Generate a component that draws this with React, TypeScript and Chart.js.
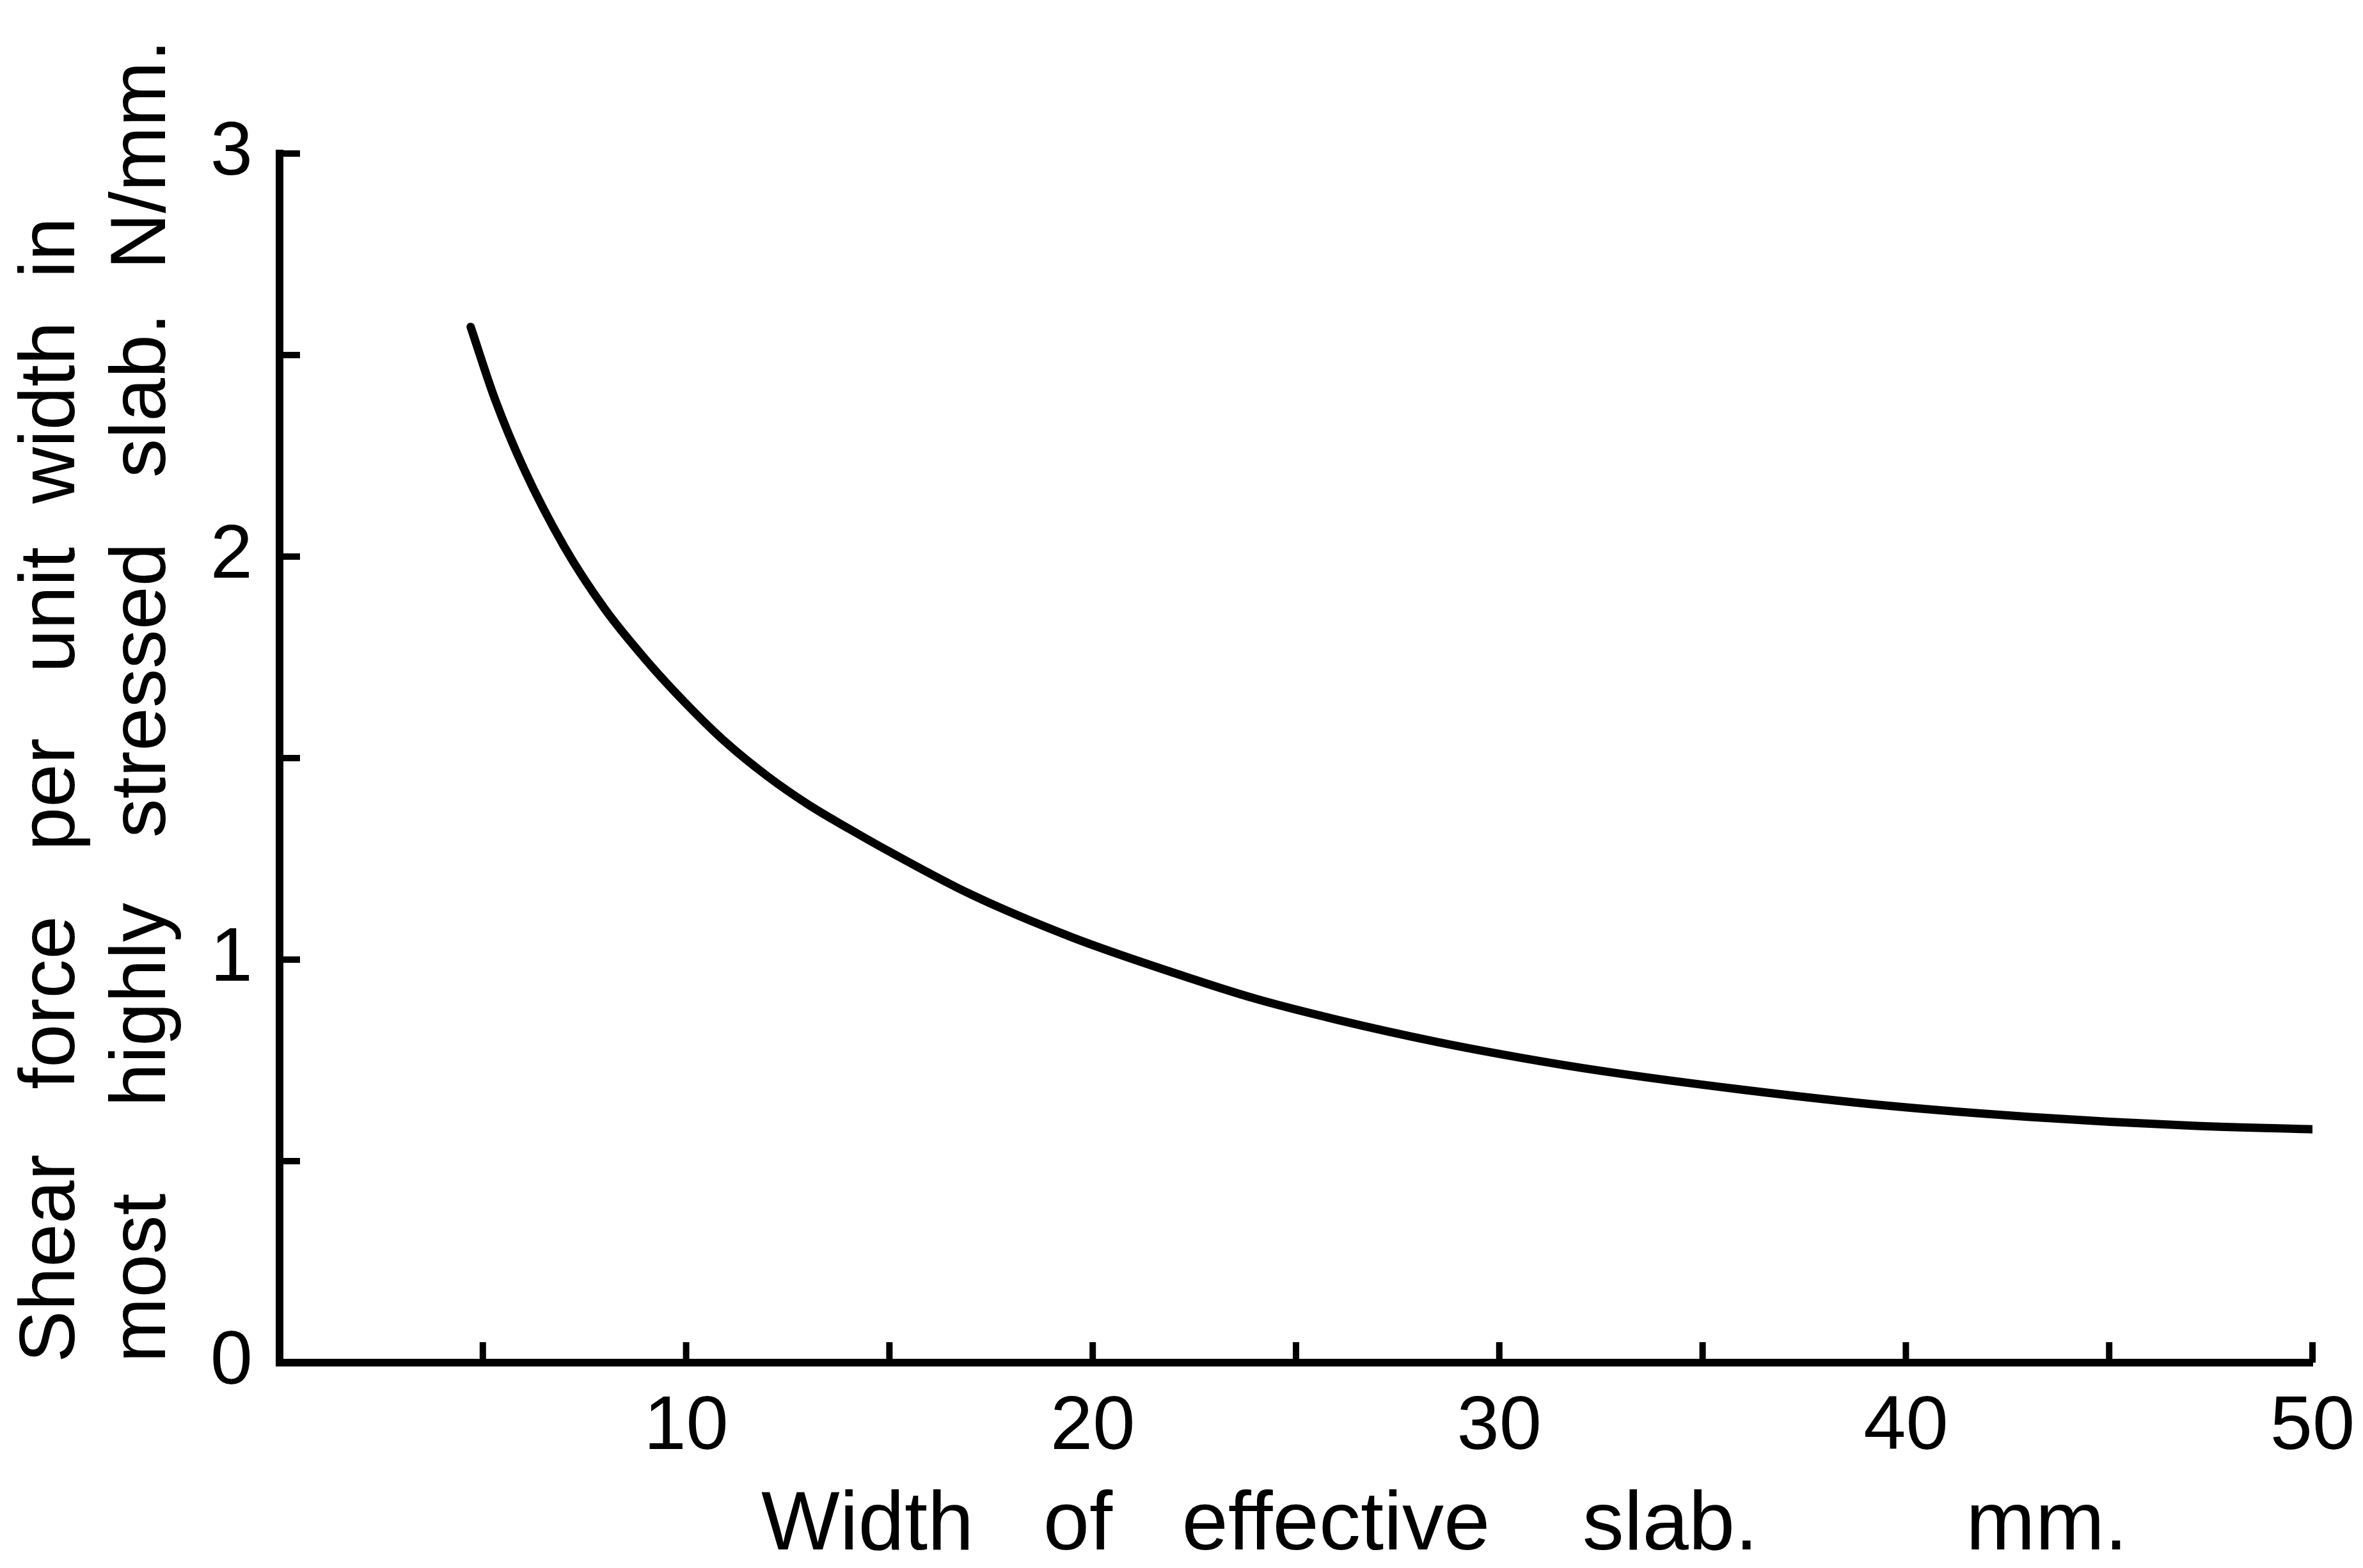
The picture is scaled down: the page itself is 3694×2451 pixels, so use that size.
import React, { useEffect, useRef } from "react";
import { Chart, registerables } from "chart.js";

Chart.register(...registerables);

// Width of effective slab (mm)
const slabWidths = [4.7, 5.3, 6, 7, 8, 9, 10, 11, 12, 13, 14, 15, 17, 19.5, 22, 24, 26, 28.5, 30.5, 32.5, 36, 39.5, 43, 47, 50];
// Shear force per unit width in most highly stressed slab (N/mm)
const shearForces = [2.57, 2.39, 2.22, 2.025, 1.87, 1.745, 1.635, 1.537, 1.455, 1.385, 1.325, 1.268, 1.162, 1.055, 0.967, 0.903, 0.851, 0.795, 0.757, 0.724, 0.677, 0.638, 0.61, 0.588, 0.579];

const xLabelValues = [10, 20, 30, 40, 50];
const yLabelValues = [0, 1, 2, 3];

const xTitle = "Width   of   effective    slab.         mm.        ";
const yTitleLines = ["Shear   force   per   unit  width  in", "most    highly   stressed   slab.  N/mm."];

const tickFont = "'Liberation Sans Narrow', 'Liberation Sans', Arial, sans-serif";
const titleFont = "'Liberation Sans', Arial, sans-serif";

const inwardTicks = {
  id: "inwardTicks",
  afterDraw(chart: any) {
    const { ctx, scales } = chart;
    const xs = scales.x;
    const ys = scales.y;
    const len = 32;
    ctx.save();
    ctx.strokeStyle = "#000";
    ctx.lineWidth = 10;
    ctx.lineCap = "butt";
    const base = ys.getPixelForValue(0);
    xs.ticks.forEach((t: any) => {
      if (t.value <= 0) return;
      const px = xs.getPixelForValue(t.value);
      ctx.beginPath();
      ctx.moveTo(px, base);
      ctx.lineTo(px, base - len);
      ctx.stroke();
    });
    const left = xs.getPixelForValue(0);
    ys.ticks.forEach((t: any) => {
      if (t.value <= 0) return;
      const py = ys.getPixelForValue(t.value);
      ctx.beginPath();
      ctx.moveTo(left, py);
      ctx.lineTo(left + len, py);
      ctx.stroke();
    });
    ctx.restore();
  },
};

export default function App() {
  const ref = useRef<HTMLCanvasElement | null>(null);

  useEffect(() => {
    if (!ref.current) return;
    const data = slabWidths.map((x, i) => ({ x, y: shearForces[i] }));
    const chart = new Chart(ref.current, {
      type: "line",
      data: {
        datasets: [
          {
            data,
            borderColor: "#000",
            borderWidth: 13,
            pointRadius: 0,
            tension: 0.4,
            cubicInterpolationMode: "monotone",
            borderCapStyle: "round",
            fill: false,
          },
        ],
      },
      options: {
        responsive: false,
        animation: false,
        layout: { padding: { left: 0, top: 240, right: 79, bottom: 0 } },
        plugins: { legend: { display: false }, tooltip: { enabled: false } },
        scales: {
          x: {
            type: "linear",
            min: 0,
            max: 50,
            grid: { drawOnChartArea: false, drawTicks: false },
            border: { display: true, color: "#000", width: 12 },
            ticks: {
              stepSize: 5,
              padding: 31,
              color: "#000",
              maxRotation: 0,
              autoSkip: false,
              font: { family: tickFont, size: 119 },
              callback: (v: any) => (xLabelValues.includes(Number(v)) ? String(v) : ""),
            },
            title: {
              display: true,
              text: xTitle,
              align: "end",
              color: "#000",
              padding: 0,
              font: { family: titleFont, size: 130, lineHeight: 1.0 },
            },
            afterFit: (s: any) => {
              s.height = 321;
              s.paddingLeft = 0;
              s.paddingRight = 0;
            },
          },
          y: {
            type: "linear",
            min: 0,
            max: 3,
            grid: { drawOnChartArea: false, drawTicks: false },
            border: { display: true, color: "#000", width: 12 },
            ticks: {
              stepSize: 0.5,
              padding: 42,
              color: "#000",
              autoSkip: false,
              font: { family: tickFont, size: 119 },
              callback: (v: any) => (yLabelValues.includes(Number(v)) ? String(v) : ""),
            },
            title: {
              display: true,
              text: yTitleLines,
              align: "start",
              color: "#000",
              padding: { top: 12, bottom: 0 },
              font: { family: titleFont, size: 122, lineHeight: 1.16 },
            },
            afterFit: (s: any) => {
              s.width = 437;
              s.paddingTop = 0;
              s.paddingBottom = 0;
            },
          },
        },
      },
      plugins: [inwardTicks],
    } as any);
    return () => chart.destroy();
  }, []);

  return (
    <canvas
      ref={ref}
      width={3694}
      height={2451}
      style={{ position: "fixed", left: 0, top: 0, width: 3694, height: 2451, display: "block", background: "#fff" }}
    />
  );
}
